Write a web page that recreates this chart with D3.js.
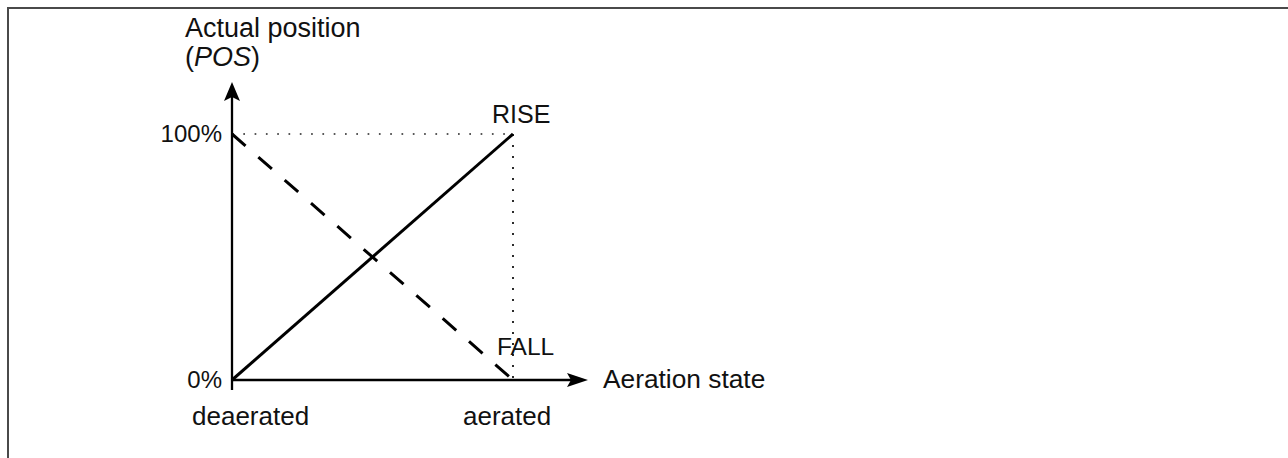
<!DOCTYPE html>
<html>
<head>
<meta charset="utf-8">
<script src="https://cdn.jsdelivr.net/npm/d3@7"></script>
<style>
  html, body { margin: 0; padding: 0; background: #fff; }
  svg { display: block; }
  text { font-family: "Liberation Sans", Arial, Helvetica, sans-serif; fill: #111; }
</style>
</head>
<body>
<svg id="chart" width="1288" height="458"></svg>
<script>
// Aeration state (x) vs. actual position (y)
const states = ["deaerated", "aerated"];
const stateValues = [0, 1];
const riseValues = [0, 100];
const fallValues = [100, 0];
const yTickValues = [0, 100];
const yTickLabels = ["0%", "100%"];
const seriesLabels = ["RISE", "FALL"];

const svg = d3.select("#chart");

// outer frame (right and bottom edges run off the page)
svg.append("rect")
  .attr("x", 8).attr("y", 8)
  .attr("width", 1400).attr("height", 600)
  .attr("fill", "none")
  .attr("stroke", "#4a4a4a")
  .attr("stroke-width", 2);

const x = d3.scaleLinear().domain([0, 1]).range([232, 513]);
const y = d3.scaleLinear().domain([0, 100]).range([380, 134]);

const g = svg.append("g");

// guide lines at the upper limit
g.append("line")
  .attr("x1", x(0)).attr("x2", x(1))
  .attr("y1", y(100)).attr("y2", y(100))
  .attr("stroke", "#222").attr("stroke-width", 1.7)
  .attr("stroke-dasharray", "1.7,9.6");
g.append("line")
  .attr("x1", x(1)).attr("x2", x(1))
  .attr("y1", y(100)).attr("y2", y(0))
  .attr("stroke", "#222").attr("stroke-width", 1.9)
  .attr("stroke-dasharray", "1.9,9.1");

// axes with arrow heads
const axisColor = "#000";
g.append("line")
  .attr("x1", x(0)).attr("x2", x(0))
  .attr("y1", 390).attr("y2", 95)
  .attr("stroke", axisColor).attr("stroke-width", 2.3);
g.append("line")
  .attr("x1", x(0)).attr("x2", 575)
  .attr("y1", y(0)).attr("y2", y(0))
  .attr("stroke", axisColor).attr("stroke-width", 2.3);

// up arrow at the y axis
const ax = x(0);
g.append("path")
  .attr("d", `M${ax},82 L${ax + 8},101 L${ax},97 L${ax - 8},101 Z`)
  .attr("fill", axisColor);
// right arrow at the x axis
const ay = y(0);
g.append("path")
  .attr("d", `M588,${ay} L567,${ay - 7} L571,${ay} L567,${ay + 7} Z`)
  .attr("fill", axisColor);

// series lines
const line = d3.line()
  .x((d, i) => x(stateValues[i]))
  .y(d => y(d));

g.append("path")
  .datum(riseValues)
  .attr("d", line)
  .attr("fill", "none")
  .attr("stroke", "#000")
  .attr("stroke-width", 3);

g.append("path")
  .datum(fallValues)
  .attr("d", line)
  .attr("fill", "none")
  .attr("stroke", "#000")
  .attr("stroke-width", 3)
  .attr("stroke-dasharray", "18,17");

// y tick labels
g.selectAll(".ytick")
  .data(yTickValues)
  .join("text")
  .attr("class", "ytick")
  .attr("x", x(0) - 10)
  .attr("y", d => y(d) + 8)
  .attr("text-anchor", "end")
  .attr("font-size", 24)
  .text((d, i) => yTickLabels[i]);

// x state labels
g.selectAll(".xlabel")
  .data(states)
  .join("text")
  .attr("class", "xlabel")
  .attr("x", (d, i) => i === 0 ? x(0) - 40 : x(1) - 50)
  .attr("y", 425)
  .attr("font-size", 26)
  .text(d => d);

// series labels
g.append("text")
  .attr("x", 492).attr("y", 123)
  .attr("font-size", 25)
  .text(seriesLabels[0]);
g.append("text")
  .attr("x", 497).attr("y", 355)
  .attr("font-size", 24.5)
  .text(seriesLabels[1]);

// axis titles
g.append("text")
  .attr("x", 185).attr("y", 37)
  .attr("font-size", 27)
  .text("Actual position");
const yTitle2 = g.append("text")
  .attr("x", 185).attr("y", 66)
  .attr("font-size", 27);
yTitle2.append("tspan").text("(");
yTitle2.append("tspan").attr("font-style", "italic").text("POS");
yTitle2.append("tspan").text(")");

g.append("text")
  .attr("x", 603).attr("y", 388)
  .attr("font-size", 26.3)
  .text("Aeration state");
</script>
</body>
</html>
